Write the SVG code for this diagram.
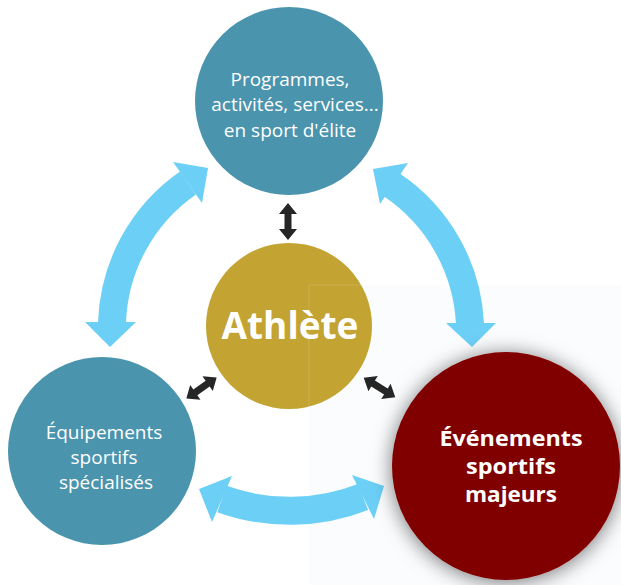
<svg xmlns="http://www.w3.org/2000/svg" width="621" height="585" viewBox="0 0 621 585">
  <style>
    .blue { fill: #4a94ae; }
    .gold { fill: #c3a332; }
    .red { fill: #800000; }
    .lbl { font-family: "Open Sans", "Noto Sans", sans-serif; fill: #ffffff; text-anchor: middle; }
    .reg { font-size: 19px; }
    .bold { font-weight: bold; }
    .ev { font-size: 21px; }
    .band { fill: none; stroke: #6ccff6; stroke-width: 28; }
    .head { fill: #6ccff6; }
    .dbl { fill: #262626; }
  </style>
  <defs>
    <filter id="shadow" x="-30%" y="-30%" width="160%" height="160%">
      <feDropShadow dx="0" dy="2" stdDeviation="10" flood-color="#000" flood-opacity="0.55"/>
    </filter>
    <!-- double-headed arrow along the x-axis, centred on the origin -->
    <path id="dblArrow" d="M -18.5 0 L -7.5 -9 L -7.5 -3.5 L 7.5 -3.5 L 7.5 -9 L 18.5 0 L 7.5 9 L 7.5 3.5 L -7.5 3.5 L -7.5 9 Z"/>
  </defs>

  <rect width="621" height="585" fill="#ffffff"/>
  <!-- faint light panel over the lower right -->
  <rect x="309" y="285" width="312" height="300" fill="#fafcfe"/>

  <!-- connectors -->
  <g id="connectors">
    <!-- left: Programmes <-> Equipements -->
    <path class="band" d="M 112 323 A 177 177 0 0 1 188 183"/>
    <polygon class="head" points="208,168 173,162 202,203"/>
    <polygon class="head" points="110,347 85,322 136,322"/>
    <!-- right: Programmes <-> Evenements -->
    <path class="band" d="M 392 185 A 178 178 0 0 1 470 324"/>
    <polygon class="head" points="373,169 408,163 380,204"/>
    <polygon class="head" points="472,347 446,323 496,323"/>
    <!-- bottom: Equipements <-> Evenements -->
    <path class="band" d="M 222 499 A 200 200 0 0 0 363 497"/>
    <polygon class="head" points="199,489 232,476 212,522"/>
    <polygon class="head" points="384,486 352,475 374,519"/>
    <!-- athlete links -->
    <use href="#dblArrow" class="dbl" transform="translate(288,221.5) rotate(90)"/>
    <use href="#dblArrow" class="dbl" transform="translate(201.5,388) rotate(-35)"/>
    <use href="#dblArrow" class="dbl" transform="translate(379.5,387.5) rotate(31.5)"/>
  </g>

  <g id="programmes">
    <circle class="blue" cx="289" cy="101" r="94"/>
    <text class="lbl reg" x="290" y="86">Programmes,</text>
    <text class="lbl reg" x="295" y="111">activités, services...</text>
    <text class="lbl reg" x="290" y="137">en sport d'élite</text>
  </g>

  <g id="athlete">
    <circle class="gold" cx="289" cy="326" r="83"/>
    <text class="lbl bold" x="290" y="339" font-size="37">Athlète</text>
    <!-- faint panel edge across the disc -->
    <path d="M 309 409 V 285 H 372" fill="none" stroke="#ffffff" stroke-opacity="0.15" stroke-width="1"/>
  </g>

  <g id="equipements">
    <circle class="blue" cx="102" cy="451" r="94"/>
    <text class="lbl reg" x="104" y="439">Équipements</text>
    <text class="lbl reg" x="104" y="464">sportifs</text>
    <text class="lbl reg" x="106" y="489">spécialisés</text>
  </g>

  <g id="evenements">
    <circle class="red" cx="506" cy="466" r="114" filter="url(#shadow)"/>
    <text class="lbl bold ev" x="511" y="446" textLength="143" lengthAdjust="spacingAndGlyphs">Événements</text>
    <text class="lbl bold ev" x="511" y="474" textLength="90" lengthAdjust="spacingAndGlyphs">sportifs</text>
    <text class="lbl bold ev" x="511" y="502" textLength="92" lengthAdjust="spacingAndGlyphs">majeurs</text>
  </g>
</svg>
